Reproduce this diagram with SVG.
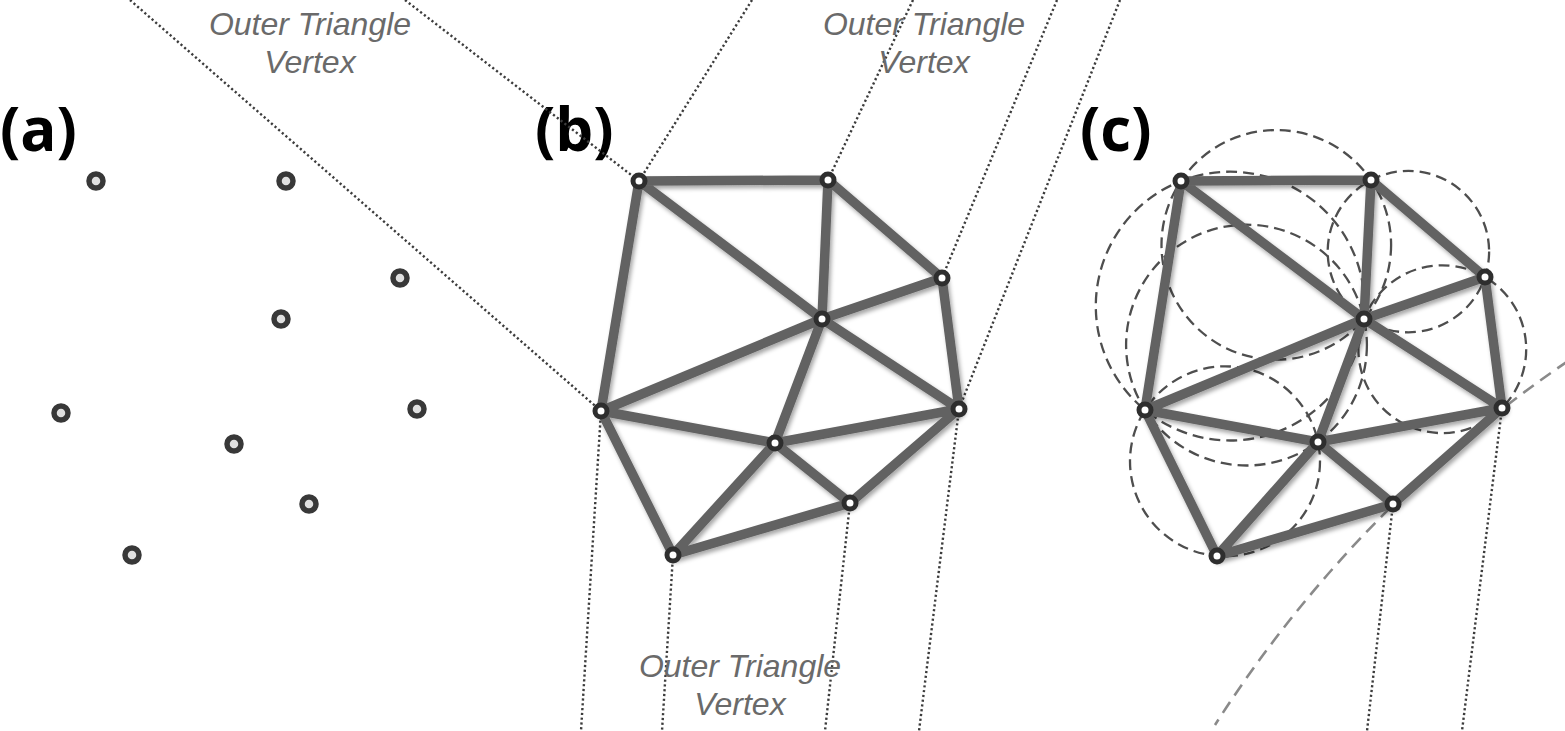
<svg xmlns="http://www.w3.org/2000/svg" width="1565" height="731" viewBox="0 0 1565 731">
<style>
.lbl{font-family:"Open Sans","Liberation Sans",sans-serif;font-weight:bold;font-size:60px;fill:#000}
.otv{font-family:"Liberation Sans",Arial,sans-serif;font-style:italic;font-size:32px;fill:#6a6a6a;text-anchor:middle}
.dot{fill:none;stroke:#3c3c3c;stroke-width:2.4;stroke-dasharray:2.2 2.6}
.edge{fill:none;stroke:#626262;stroke-width:9.5;stroke-linecap:round}
.circ{fill:none;stroke:#4e4e4e;stroke-width:2.3;stroke-dasharray:11 6}
.big{fill:none;stroke:#8a8a8a;stroke-width:2.6;stroke-dasharray:13 8}
.pt{fill:#e0e0e0;stroke:#383838;stroke-width:5.5}
.vt{fill:#fff;stroke:#2e2e2e;stroke-width:5}
</style>
<defs>
<filter id="sh" x="-10%" y="-10%" width="120%" height="120%">
<feDropShadow dx="2" dy="3" stdDeviation="2" flood-color="#000" flood-opacity="0.35"/>
</filter>
</defs>
<rect width="1565" height="731" fill="#fff"/>
<g id="labels">
<text class="lbl" x="0" y="151">(a)</text>
<text class="lbl" x="535" y="151">(b)</text>
<text class="lbl" x="1080" y="151">(c)</text>
</g>
<g id="guides">
<line class="dot" x1="130" y1="0" x2="601" y2="411"/>
<line class="dot" x1="405" y1="0" x2="639" y2="181"/>
<line class="dot" x1="752" y1="0" x2="639" y2="181"/>
<line class="dot" x1="913" y1="0" x2="828" y2="180"/>
<line class="dot" x1="1057" y1="0" x2="942" y2="278"/>
<line class="dot" x1="1120" y1="0" x2="959" y2="409"/>
<line class="dot" x1="601" y1="411" x2="581" y2="731"/>
<line class="dot" x1="673" y1="555" x2="662" y2="731"/>
<line class="dot" x1="850" y1="503" x2="825" y2="731"/>
<line class="dot" x1="959" y1="409" x2="919" y2="731"/>
<line class="dot" x1="1393" y1="504" x2="1367" y2="731"/>
<line class="dot" x1="1502" y1="408" x2="1462" y2="731"/>
</g>
<g id="texts">
<text class="otv" x="310" y="35">Outer Triangle</text>
<text class="otv" x="310" y="73">Vertex</text>
<text class="otv" x="924" y="35">Outer Triangle</text>
<text class="otv" x="924" y="73">Vertex</text>
<text class="otv" x="740" y="677">Outer Triangle</text>
<text class="otv" x="740" y="715">Vertex</text>
</g>
<g id="circumcircles">
<circle class="circ" cx="1276.3" cy="244.9" r="114.8"/>
<circle class="circ" cx="1230.2" cy="306.1" r="134.4"/>
<circle class="circ" cx="1408.4" cy="251.6" r="80.7"/>
<circle class="circ" cx="1442.3" cy="349.2" r="83.9"/>
<circle class="circ" cx="1246.5" cy="345.1" r="120.4"/>
<circle class="circ" cx="1225" cy="461.3" r="95"/>
<path class="big" d="M1568,361 A1264,1264 0 0 0 1215,725"/>
</g>
<g id="connectors" filter="url(#sh)">
<path class="edge" d="M639,181L828,180M639,181L822,319M639,181L601,411M828,180L822,319M828,180L942,278M942,278L822,319M942,278L959,409M822,319L601,411M822,319L959,409M822,319L775,443M601,411L775,443M601,411L673,555M775,443L959,409M775,443L850,503M775,443L673,555M673,555L850,503M850,503L959,409"/>
<path class="edge" d="M1181,181L1371,180M1181,181L1364,319M1181,181L1145,410M1371,180L1364,319M1371,180L1485,277M1485,277L1364,319M1485,277L1502,408M1364,319L1145,410M1364,319L1502,408M1364,319L1318,442M1145,410L1318,442M1145,410L1217,556M1318,442L1502,408M1318,442L1393,504M1318,442L1217,556M1217,556L1393,504M1393,504L1502,408"/>
</g>
<g id="nodes-a">
<g id="a1"><circle class="pt" cx="96" cy="181" r="7"/></g>
<g id="a2"><circle class="pt" cx="286" cy="181" r="7"/></g>
<g id="a3"><circle class="pt" cx="400" cy="278" r="7"/></g>
<g id="a4"><circle class="pt" cx="281" cy="319" r="7"/></g>
<g id="a5"><circle class="pt" cx="61" cy="413" r="7"/></g>
<g id="a6"><circle class="pt" cx="417" cy="409" r="7"/></g>
<g id="a7"><circle class="pt" cx="234" cy="444" r="7"/></g>
<g id="a8"><circle class="pt" cx="309" cy="504" r="7"/></g>
<g id="a9"><circle class="pt" cx="132" cy="555" r="7"/></g>
</g>
<g id="nodes-b">
<g id="b1"><circle class="vt" cx="639" cy="181" r="6"/></g>
<g id="b2"><circle class="vt" cx="828" cy="180" r="6"/></g>
<g id="b3"><circle class="vt" cx="942" cy="278" r="6"/></g>
<g id="b4"><circle class="vt" cx="822" cy="319" r="6"/></g>
<g id="b5"><circle class="vt" cx="601" cy="411" r="6"/></g>
<g id="b6"><circle class="vt" cx="959" cy="409" r="6"/></g>
<g id="b7"><circle class="vt" cx="775" cy="443" r="6"/></g>
<g id="b8"><circle class="vt" cx="850" cy="503" r="6"/></g>
<g id="b9"><circle class="vt" cx="673" cy="555" r="6"/></g>
</g>
<g id="nodes-c">
<g id="c1"><circle class="vt" cx="1181" cy="181" r="6"/></g>
<g id="c2"><circle class="vt" cx="1371" cy="180" r="6"/></g>
<g id="c3"><circle class="vt" cx="1485" cy="277" r="6"/></g>
<g id="c4"><circle class="vt" cx="1364" cy="319" r="6"/></g>
<g id="c5"><circle class="vt" cx="1145" cy="410" r="6"/></g>
<g id="c6"><circle class="vt" cx="1502" cy="408" r="6"/></g>
<g id="c7"><circle class="vt" cx="1318" cy="442" r="6"/></g>
<g id="c8"><circle class="vt" cx="1393" cy="504" r="6"/></g>
<g id="c9"><circle class="vt" cx="1217" cy="556" r="6"/></g>
</g>
</svg>
